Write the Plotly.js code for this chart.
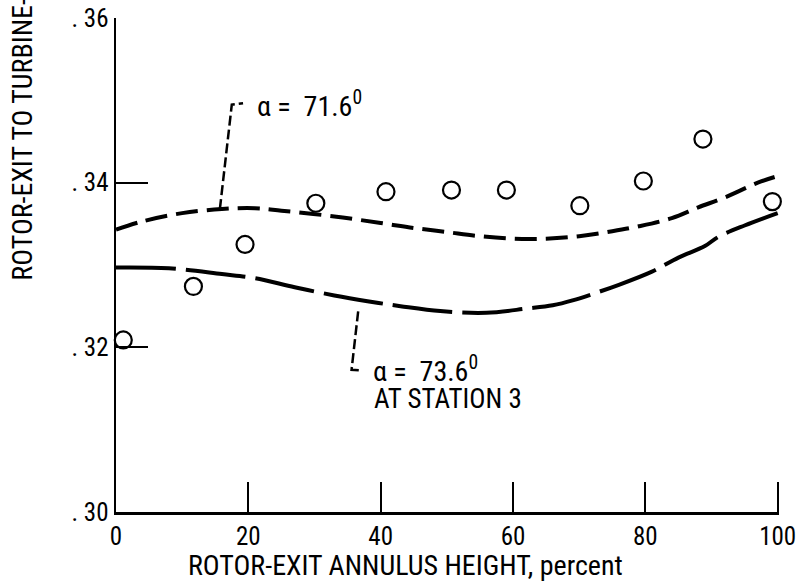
<!DOCTYPE html>
<html>
<head>
<meta charset="utf-8">
<script src="https://cdn.plot.ly/plotly-3.0.1.min.js"></script>
<style>
  html, body { margin: 0; padding: 0; background: #fff; }
  #chart { width: 797px; height: 583px; }
</style>
</head>
<body>
<div id="chart"></div>
<script>
// Measured static-pressure ratio across the rotor-exit annulus
const heightPct = [1.1, 11.7, 19.5, 30.2, 40.8, 50.7, 59.0, 70.1, 79.7, 88.7, 99.2];
const measuredRatio = [0.3209, 0.3274, 0.3325, 0.3375, 0.3389, 0.3391, 0.3391, 0.3372, 0.3402, 0.3453, 0.3377];

// Calculated distribution, alpha = 71.6 deg
const calcX716 = [0, 4, 10, 16, 21, 25, 33, 40, 45, 50, 55, 60, 65, 70, 75, 79, 84, 88, 92, 97, 100];
const calcY716 = [0.3343, 0.3353, 0.3363, 0.3368, 0.3369, 0.3366, 0.3359, 0.3351, 0.3345, 0.3340, 0.3335,
                  0.3332, 0.3332, 0.3335, 0.3341, 0.3347, 0.3357, 0.3370, 0.3382, 0.3400, 0.3408];

// Calculated distribution, alpha = 73.6 deg at station 3
const calcX736 = [0, 8, 16, 21, 27, 33, 38, 43, 49, 56, 62, 66, 69, 76, 81, 85, 89, 91, 95, 100];
const calcY736 = [0.3297, 0.3296, 0.3289, 0.3284, 0.3273, 0.3263, 0.3256, 0.3250, 0.3244, 0.3242,
                  0.3247, 0.3251, 0.3257, 0.3276, 0.3292, 0.3309, 0.3323, 0.3334, 0.3348, 0.3363];

const xTicks = [0, 20, 40, 60, 80, 100];
const xTickText = ['0', '20', '40', '60', '80', '100'];
const yTicks = [0.30, 0.32, 0.34, 0.36];
const yTickText = ['. 30', '. 32', '. 34', '. 36'];

const FONT = '"Roboto Condensed", "DejaVu Sans Condensed", sans-serif';
const SP = '\u00a0';

const traces = [
  {
    x: calcX716, y: calcY716, type: 'scatter', mode: 'lines',
    line: { color: '#000', width: 4, dash: '22px,9px', shape: 'spline', smoothing: 1 },
    hoverinfo: 'skip'
  },
  {
    x: calcX736, y: calcY736, type: 'scatter', mode: 'lines',
    line: { color: '#000', width: 4, dash: '60px,10px', shape: 'spline', smoothing: 1 },
    hoverinfo: 'skip'
  },
  {
    x: heightPct, y: measuredRatio, type: 'scatter', mode: 'markers',
    marker: { symbol: 'circle-open', size: 17, color: '#000', line: { width: 2.2, color: '#000' } },
    cliponaxis: false
  }
];

const layout = {
  width: 797, height: 583,
  margin: { l: 116, r: 18, t: 18, b: 71 },
  paper_bgcolor: '#fff', plot_bgcolor: '#fff',
  showlegend: false,
  font: { family: FONT, color: '#000', size: 25 },
  xaxis: {
    range: [0, 100.2], tickvals: xTicks, ticktext: xTickText,
    showgrid: false, zeroline: false,
    showline: true, linecolor: '#000', linewidth: 2.5,
    ticks: 'inside', ticklen: 30, tickwidth: 2, tickcolor: '#000',
    ticklabeloverflow: 'allow',
    tickfont: { family: FONT, size: 25 }
  },
  yaxis: {
    range: [0.30, 0.36], tickvals: yTicks, ticktext: yTickText,
    showgrid: false, zeroline: false,
    showline: true, linecolor: '#000', linewidth: 2.5,
    ticks: 'inside', ticklen: 32, tickwidth: 2, tickcolor: '#000',
    ticklabeloverflow: 'allow',
    tickfont: { family: FONT, size: 25 }
  },
  shapes: [
    // leader for alpha = 71.6
    { type: 'path', xref: 'x', yref: 'y', path: 'M 15.7 0.3368 L 17.5 0.34947 L 19.2 0.34965',
      line: { color: '#000', width: 2.5, dash: '10px,4px' } },
    // leader for alpha = 73.6
    { type: 'path', xref: 'x', yref: 'y', path: 'M 36.6 0.32437 L 35.6 0.31728 L 36.9 0.3172',
      line: { color: '#000', width: 2.5, dash: '10px,4px' } }
  ],
  annotations: [
    { x: 21.0, y: 0.34947, xref: 'x', yref: 'y', xanchor: 'left', yanchor: 'middle', showarrow: false,
      text: '\u03b1' + SP + '=' + SP + SP + '71.6<sup>0</sup>', font: { family: FONT, size: 28 } },
    { x: 38.6, y: 0.31728, xref: 'x', yref: 'y', xanchor: 'left', yanchor: 'middle', showarrow: false,
      text: '\u03b1' + SP + '=' + SP + SP + '73.6<sup>0</sup>', font: { family: FONT, size: 28 } },
    { x: 38.8, y: 0.31375, xref: 'x', yref: 'y', xanchor: 'left', yanchor: 'middle', showarrow: false,
      text: 'AT STATION 3', font: { family: FONT, size: 27 }, borderpad: 0 },
    { x: 0.4366, y: -0.1075, xref: 'paper', yref: 'paper', xanchor: 'center', yanchor: 'middle',
      showarrow: false, borderpad: 0,
      text: 'ROTOR-EXIT ANNULUS HEIGHT, percent', font: { family: FONT, size: 28 } },
    { x: -0.1405, y: 0.464, xref: 'paper', yref: 'paper', xanchor: 'center', yanchor: 'bottom',
      textangle: -90, showarrow: false,
      text: 'ROTOR-EXIT TO TURBINE-INLET STATIC-PRESSURE RATIO', font: { family: FONT, size: 28 } }
  ]
};

Plotly.newPlot('chart', traces, layout, { staticPlot: true, displayModeBar: false });
</script>
</body>
</html>
